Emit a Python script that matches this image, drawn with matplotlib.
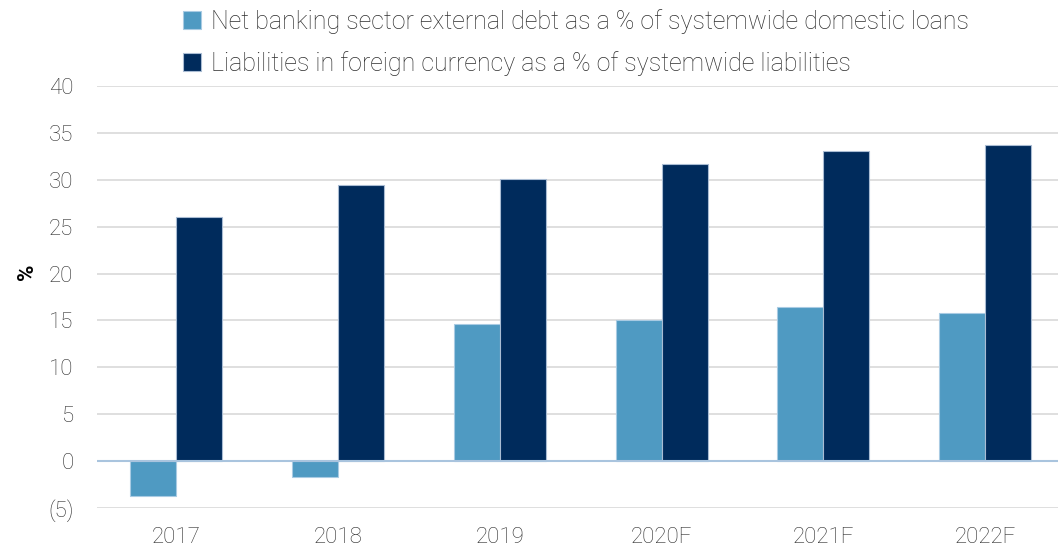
import numpy as np
import matplotlib
matplotlib.use("Agg")
import matplotlib.pyplot as plt

years = ["2017", "2018", "2019", "2020F", "2021F", "2022F"]
ext_debt = [-3.7, -1.7, 14.6, 15.0, 16.4, 15.8]
fx_liab = [26.0, 29.4, 30.1, 31.7, 33.1, 33.7]
labels = ["Net banking sector external debt as a % of systemwide domestic loans",
          "Liabilities in foreign currency as a % of systemwide liabilities"]

light = "#4f9ac2"
dark = "#002b5c"
txt = "#2e2e2e"

plt.rcParams['font.family'] = ['Roboto', 'DejaVu Sans']

fig = plt.figure(figsize=(10.58, 5.49), dpi=100)
ax = fig.add_axes([97/1058, 41/549, 961/1058, 422/549])

x = np.arange(len(years))
w = 0.284
b1 = ax.bar(x - w/2, ext_debt, w, color=light, edgecolor="#a9cbe3", linewidth=0.8, label=labels[0], zorder=3)
b2 = ax.bar(x + w/2, fx_liab, w, color=dark, edgecolor="#a9bcd3", linewidth=0.8, label=labels[1], zorder=3)

ax.set_ylim(-5, 40)
ax.set_xlim(-0.49, 5.45)
ax.set_yticks(range(-5, 41, 5))
ax.set_yticklabels(["(5)"] + [str(v) for v in range(0, 41, 5)])
ax.set_xticks(x)
ax.set_xticklabels(years)
ax.grid(axis="y", color="#d9d9d9", linewidth=1.2, zorder=0)
ax.axhline(0, color="#a9c4de", linewidth=1.5, zorder=4)
for s in ax.spines.values():
    s.set_visible(False)
ax.tick_params(length=0, labelsize=16, labelcolor=txt)
ax.tick_params(axis="x", pad=14)
ax.tick_params(axis="y", pad=17)
for t in ax.get_xticklabels() + ax.get_yticklabels():
    t.set_fontweight("light")
ax.set_ylabel("%", fontsize=16, fontweight="bold", color="black")
ax.yaxis.set_label_coords(-0.061, 0.56)

fig.legend(handles=[b1, b2], loc="upper left", bbox_to_anchor=(160/1058, 1.025),
           frameon=False, labelcolor=txt, handlelength=0.75, handleheight=0.75,
           handletextpad=0.4, labelspacing=0.7, prop={'weight': 'light', 'size': 18})

fig.savefig("out.png", dpi=100)
